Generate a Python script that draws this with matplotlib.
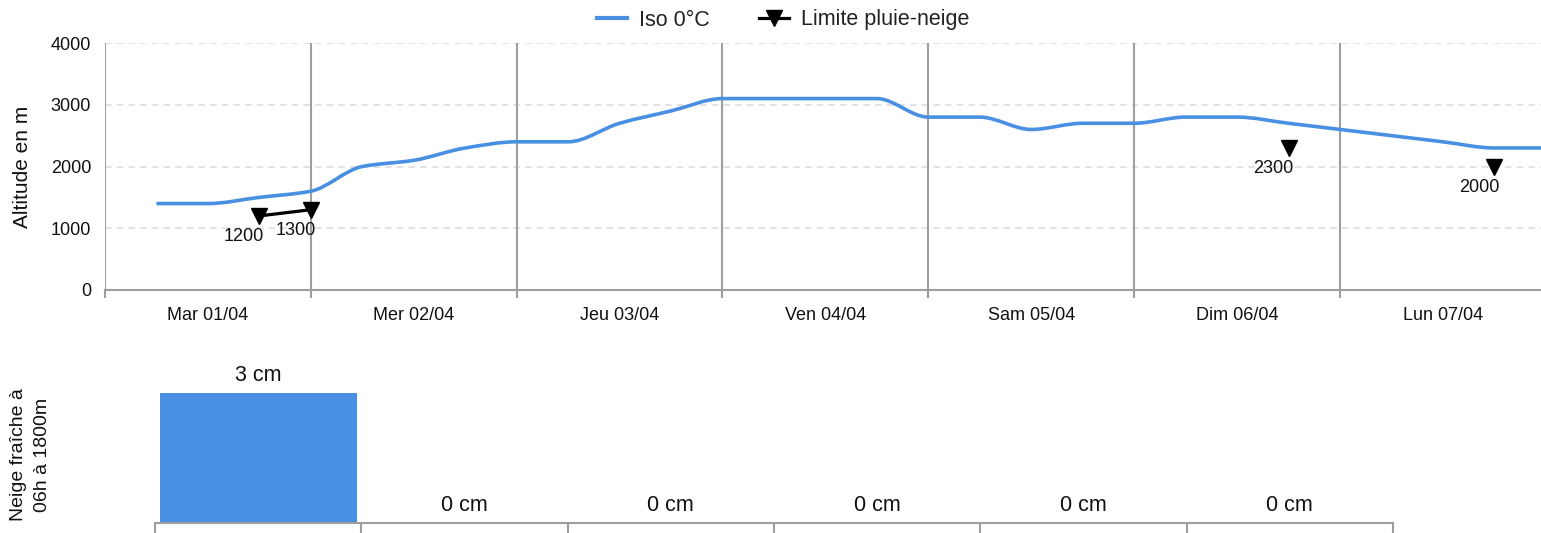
import numpy as np
import matplotlib
matplotlib.use("Agg")
from matplotlib import pyplot as plt
from matplotlib.path import Path
from matplotlib.patches import PathPatch
from matplotlib.lines import Line2D

plt.rcParams['font.family'] = ['Liberation Sans', 'DejaVu Sans']

# DATA
days = ["Mar 01/04", "Mer 02/04", "Jeu 03/04", "Ven 04/04", "Sam 05/04", "Dim 06/04", "Lun 07/04"]
# iso 0 every 6 hours, starting Mar 01/04 06h (time in days)
iso_t = [0.25, 0.5, 0.75, 1.0, 1.25, 1.5, 1.75, 2.0, 2.25, 2.5, 2.75, 3.0, 3.25, 3.5,
         3.75, 4.0, 4.25, 4.5, 4.75, 5.0, 5.25, 5.5, 5.75, 6.0, 6.25, 6.5, 6.75, 7.0]
iso_vals = [1400, 1400, 1500, 1600, 2000, 2100, 2300, 2400, 2400, 2700, 2900, 3100, 3100, 3100,
            3100, 2800, 2800, 2600, 2700, 2700, 2800, 2800, 2700, 2600, 2500, 2400, 2300, 2300]
limite_t = [0.75, 1.0, 5.75, 6.75]
limite_vals = [1200, 1300, 2300, 2000]
snow_days = ["Mar 01/04", "Mer 02/04", "Jeu 03/04", "Ven 04/04", "Sam 05/04", "Dim 06/04"]
snow_cm = [3, 0, 0, 0, 0, 0]

blue = "#4a90e2"
W, H = 1541, 533
fig = plt.figure(figsize=(W / 100, H / 100), dpi=100)

# ---- top chart
ax = fig.add_axes([105 / W, 1 - 290 / H, (W - 105) / W, 247 / H])
day_w = 205.83
ax.set_xlim(0, (W - 105) / day_w)
ax.set_ylim(0, 4000)

# smooth iso line (monotone cubic bezier through the points)
x = np.array(iso_t)
y = np.array(iso_vals, dtype=float)
h = np.diff(x)
d = np.diff(y) / h
m = np.zeros_like(y)
m[0], m[-1] = d[0], d[-1]
for k in range(1, len(y) - 1):
    if d[k - 1] * d[k] > 0:
        m[k] = 2 / (1 / d[k - 1] + 1 / d[k])
verts = [(x[0], y[0])]
codes = [Path.MOVETO]
for k in range(len(x) - 1):
    verts += [(x[k] + h[k] / 3, y[k] + m[k] * h[k] / 3),
              (x[k + 1] - h[k] / 3, y[k + 1] - m[k + 1] * h[k] / 3),
              (x[k + 1], y[k + 1])]
    codes += [Path.CURVE4] * 3
ax.add_patch(PathPatch(Path(verts, codes), fill=False, edgecolor=blue, lw=2.6,
                       capstyle='butt', zorder=3))

# limite pluie-neige
for i in range(len(limite_t) - 1):
    if abs(limite_t[i + 1] - limite_t[i] - 0.25) < 1e-9:
        ax.plot(limite_t[i:i + 2], limite_vals[i:i + 2], color='black', lw=2.3, zorder=4)
ax.plot(limite_t, limite_vals, ls='none', marker='v', ms=11, color='black', zorder=5)
for t, v in zip(limite_t, limite_vals):
    ax.annotate(str(v), (t, v), xytext=(-11, -15), textcoords='offset points',
                ha='center', va='center', fontsize=13, color='#111111')

# grid
for yv in [1000, 2000, 3000, 4000]:
    ax.axhline(yv, color='#dddddd', lw=1.2, ls=(0, (4, 3)), zorder=1)
for dv in range(0, 7):
    ax.axvline(dv, color='#9e9e9e', lw=1.5, zorder=2)
for s in ['top', 'right', 'left']:
    ax.spines[s].set_visible(False)
ax.spines['bottom'].set_color('#9e9e9e')
ax.spines['bottom'].set_linewidth(1.5)

ax.set_yticks([0, 1000, 2000, 3000, 4000])
ax.tick_params(axis='y', length=0, pad=10, labelsize=13, labelcolor='#111111')
ax.set_xticks(range(0, 7))
ax.set_xticklabels([])
ax.set_xticks([i + 0.5 for i in range(7)], minor=True)
ax.set_xticklabels(days, minor=True)
ax.tick_params(axis='x', which='major', length=6, width=1.5, color='#9e9e9e')
ax.tick_params(axis='x', which='minor', length=0, pad=12, labelsize=13, labelcolor='#111111')
ax.set_ylabel("Altitude en m", fontsize=15, color='#111111')
ax.yaxis.set_label_coords((32 - 105) / (W - 105), 0.5)

handles = [Line2D([], [], color=blue, lw=3),
           Line2D([], [], color='black', lw=2.3, marker='v', ms=11)]
fig.legend(handles, ["Iso 0°C", "Limite pluie-neige"], loc='center',
           bbox_to_anchor=(783 / W, 1 - 20 / H), ncol=2, frameon=False,
           fontsize=15.5, handlelength=1.4, columnspacing=2.3, handletextpad=0.55,
           labelcolor='#222222')

# ---- bottom chart
bx = fig.add_axes([155 / W, 1 - 523 / H, (1393 - 155) / W, 163 / H])
bx.set_xlim(0, 6)
bx.set_ylim(0, 3 * 163 / 130)
pos = np.arange(len(snow_days)) + 0.5
bars = bx.bar(pos, snow_cm, width=0.956, color=blue, zorder=2)
for p, v in zip(pos, snow_cm):
    bx.annotate(f"{v} cm", (p, v), xytext=(0, 5), textcoords='offset points',
                ha='center', va='bottom', fontsize=15.5, color='#111111')
for s in ['top', 'right', 'left']:
    bx.spines[s].set_visible(False)
bx.spines['bottom'].set_color('#9e9e9e')
bx.spines['bottom'].set_linewidth(1.5)
bx.set_yticks([])
bx.set_xticks(range(0, 7))
bx.set_xticklabels([])
bx.tick_params(axis='x', length=8, width=1.5, color='#9e9e9e')
bx.set_ylabel("Neige fraîche à\n06h à 1800m", fontsize=14, color='#111111',
              linespacing=1.5)
bx.yaxis.set_label_coords((51 - 155) / (1393 - 155), 0.42)

fig.savefig("out.png", dpi=100)
